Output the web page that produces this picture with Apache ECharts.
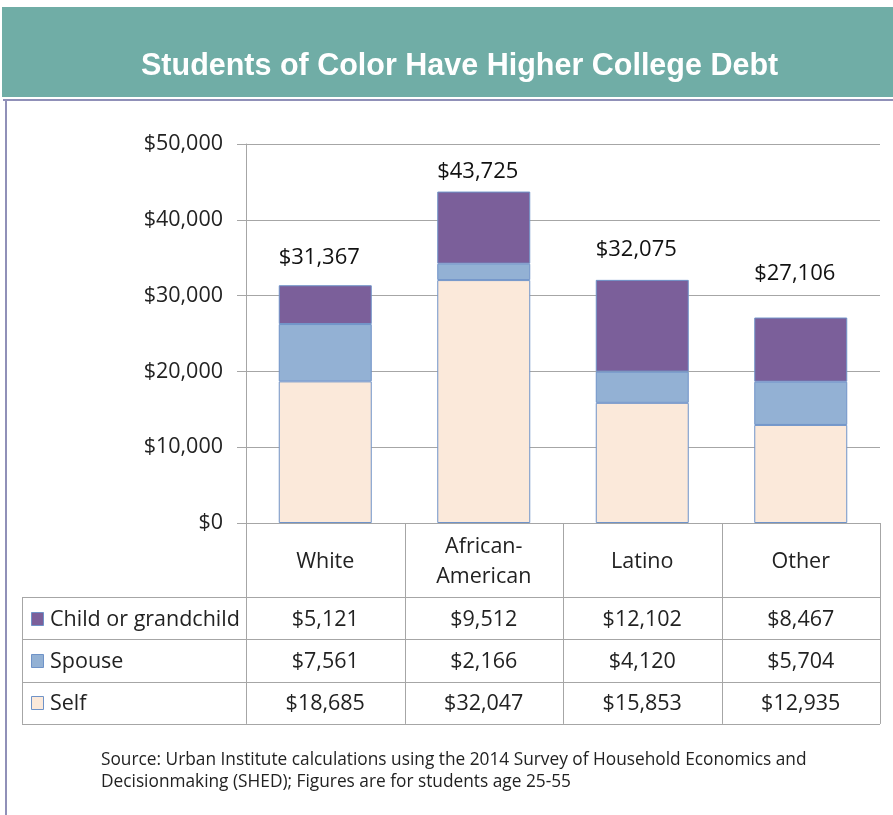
<!DOCTYPE html>
<html>
<head>
<meta charset="utf-8">
<script src="https://cdn.jsdelivr.net/npm/echarts@6/dist/echarts.min.js"></script>
<style>
html,body{margin:0;padding:0;background:#fff;}
#chart{width:893px;height:815px;}
</style>
</head>
<body>
<div id="chart"></div>
<script>
var titleText = 'Students of Color Have Higher College Debt';
var categories = ['White', 'African-\nAmerican', 'Latino', 'Other'];
var seriesNames = ['Child or grandchild', 'Spouse', 'Self'];
var childVals = [5121, 9512, 12102, 8467];
var spouseVals = [7561, 2166, 4120, 5704];
var selfVals = [18685, 32047, 15853, 12935];
var totals = [31367, 43725, 32075, 27106];
var yTicks = [0, 10000, 20000, 30000, 40000, 50000];
var sourceLines = [
  'Source: Urban Institute calculations using the 2014 Survey of Household Economics and',
  'Decisionmaking (SHED); Figures are for students age 25-55'
];

// style-only settings
var colors = {child: '#7b5f9a', spouse: '#93b1d4', self: '#fbe9da', border: '#6f93c8'};
var totalLabelDistance = [17, 9, 19, 33];

function money(v) {
  return '$' + String(v).replace(/\B(?=(\d{3})+(?!\d))/g, ',');
}

var FONT = 'Open Sans';
var FS = 21.5;
var chart = echarts.init(document.getElementById('chart'), null, {renderer: 'canvas'});

var option = {
  animation: false,
  backgroundColor: '#fff',
  title: {
    text: titleText,
    left: 136,
    top: 46,
    textStyle: {color: '#fff', fontFamily: 'Liberation Sans', fontWeight: 'bold', fontSize: 30.5}
  },
  grid: {left: 246, top: 144, width: 634, height: 379},
  xAxis: {
    type: 'category',
    data: categories,
    axisLine: {show: true, lineStyle: {color: '#a6a6a6'}},
    axisTick: {show: false},
    axisLabel: {show: false}
  },
  yAxis: {
    type: 'value',
    min: yTicks[0],
    max: yTicks[yTicks.length - 1],
    interval: yTicks[1] - yTicks[0],
    axisLine: {show: true, lineStyle: {color: '#a6a6a6'}},
    axisTick: {show: true, length: 9, lineStyle: {color: '#a6a6a6'}},
    axisLabel: {
      formatter: function (v) { return money(v); },
      fontFamily: FONT, fontSize: FS, color: '#222', margin: 23
    },
    splitLine: {show: true, lineStyle: {color: '#a6a6a6', width: 1}}
  },
  series: [
    {
      name: seriesNames[2], type: 'bar', stack: 'debt', data: selfVals, barWidth: 93,
      itemStyle: {color: colors.self, borderColor: colors.border, borderWidth: 1}
    },
    {
      name: seriesNames[1], type: 'bar', stack: 'debt', data: spouseVals, barWidth: 93,
      itemStyle: {color: colors.spouse, borderColor: colors.border, borderWidth: 1}
    },
    {
      name: seriesNames[0], type: 'bar', stack: 'debt', barWidth: 93,
      data: childVals.map(function (v, i) {
        return {value: v, label: {distance: totalLabelDistance[i]}};
      }),
      itemStyle: {color: colors.child, borderColor: colors.border, borderWidth: 1},
      label: {
        show: true, position: 'top', offset: [-6, 0],
        fontFamily: FONT, fontSize: FS + 0.5, color: '#111',
        formatter: function (p) { return money(totals[p.dataIndex]); }
      }
    }
  ]
};
chart.setOption(option);

var g = [];
g.push({type: 'rect', z: -1, shape: {x: 2, y: 7, width: 891, height: 90}, style: {fill: '#70ada6'}});
g.push({type: 'line', shape: {x1: 3, y1: 100, x2: 893, y2: 100}, style: {stroke: '#9090b8', lineWidth: 2}});
g.push({type: 'line', shape: {x1: 6, y1: 100, x2: 6, y2: 815}, style: {stroke: '#9090b8', lineWidth: 2}});

var x0 = chart.convertToPixel({gridIndex: 0}, [0, 0]);
var y0 = x0[1];
var step = chart.convertToPixel({xAxisIndex: 0}, 1) - chart.convertToPixel({xAxisIndex: 0}, 0);
var centers = categories.map(function (c, i) { return chart.convertToPixel({xAxisIndex: 0}, i); });
var leftX = centers[0] - step / 2;
var rightX = centers[centers.length - 1] + step / 2;
var legendLeft = 22;
var headerBottom = y0 + 74;
var rowH = 42.3;
var tableBottom = headerBottom + rowH * 3;
var lineC = '#a6a6a6';

for (var i = 0; i <= categories.length; i++) {
  var xx = Math.round(leftX + step * i) + 0.5;
  g.push({type: 'line', shape: {x1: xx, y1: y0, x2: xx, y2: tableBottom}, style: {stroke: lineC, lineWidth: 1}});
}
g.push({type: 'line', shape: {x1: legendLeft + 0.5, y1: headerBottom, x2: legendLeft + 0.5, y2: tableBottom}, style: {stroke: lineC, lineWidth: 1}});
for (var r = 0; r <= 3; r++) {
  var yy = Math.round(headerBottom + rowH * r) + 0.5;
  g.push({type: 'line', shape: {x1: legendLeft, y1: yy, x2: rightX, y2: yy}, style: {stroke: lineC, lineWidth: 1}});
}
categories.forEach(function (c, i) {
  g.push({type: 'text', x: centers[i], y: (y0 + headerBottom) / 2 + 2,
    style: {text: c, fontFamily: FONT, fontSize: FS, fill: '#222', align: 'center', verticalAlign: 'middle', lineHeight: 30}});
});
var rowData = [childVals, spouseVals, selfVals];
var rowColors = [colors.child, colors.spouse, colors.self];
rowData.forEach(function (vals, r) {
  var cy = headerBottom + rowH * r + rowH / 2 + 1.5;
  g.push({type: 'rect', shape: {x: 31.5, y: Math.round(cy - 8) + 0.5, width: 12, height: 13},
    style: {fill: rowColors[r], stroke: colors.border, lineWidth: 1}});
  g.push({type: 'text', x: 50, y: cy, style: {text: seriesNames[r], fontFamily: FONT, fontSize: FS, fill: '#222', verticalAlign: 'middle'}});
  vals.forEach(function (v, i) {
    g.push({type: 'text', x: centers[i], y: cy,
      style: {text: money(v), fontFamily: FONT, fontSize: FS, fill: '#222', align: 'center', verticalAlign: 'middle'}});
  });
});
sourceLines.forEach(function (s, i) {
  g.push({type: 'text', x: 101, y: 760 + 22 * i, style: {text: s, fontFamily: FONT, fontSize: 17.3, fill: '#222', verticalAlign: 'middle'}});
});
chart.setOption({graphic: g});
</script>
</body>
</html>
